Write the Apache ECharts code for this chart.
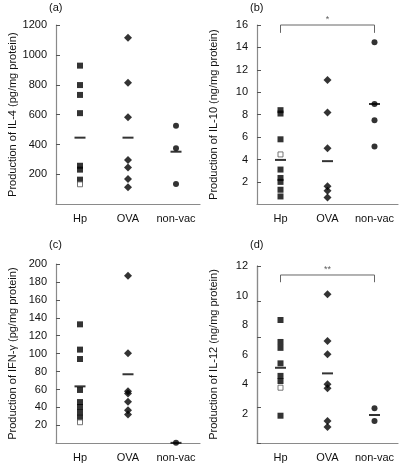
<!DOCTYPE html>
<html>
<head>
<meta charset="utf-8">
<script src="https://cdn.jsdelivr.net/npm/echarts@6/dist/echarts.min.js"></script>
<style>
html,body{margin:0;padding:0;background:#fff;}
#chart{width:400px;height:464px;}
</style>
</head>
<body>
<div id="chart"></div>
<script>
// ---- data ----
const categories = ['Hp', 'OVA', 'non-vac'];

// (a) IL-4 (pg/mg protein)
const il4Hp = [928, 798, 732, 610, 258, 232, 165];
const il4HpOpen = [134];
const il4Ova = [1115, 814, 582, 296, 247, 169, 114];
const il4NonVac = [526, 375, 136];
const il4Means = [446, 446, 352];

// (b) IL-10 (ng/mg protein)
const il10Hp = [8.4, 8.1, 5.8, 3.1, 2.35, 2.0, 1.3, 0.7];
const il10HpOpen = [4.45];
const il10Ova = [11.1, 8.2, 5.0, 1.6, 1.2, 0.6];
const il10NonVac = [14.45, 8.95, 7.5, 5.15];
const il10Means = [3.96, 3.85, 8.95];

// (c) IFN-gamma (pg/mg protein)
const ifnHp = [132.7, 104.5, 94, 59.5, 46, 40.5, 34.5, 28.5];
const ifnHpOpen = [23.5];
const ifnOva = [187, 100.4, 58, 55.5, 46.4, 37, 32];
const ifnNonVac = [0.5];
const ifnMeans = [63.5, 77, 0.5];

// (d) IL-12 (ng/mg protein)
const il12Hp = [8.34, 6.85, 6.45, 5.4, 4.55, 4.2, 1.85];
const il12HpOpen = [3.75];
const il12Ova = [10.08, 6.92, 6.01, 3.98, 3.71, 1.5, 1.08];
const il12NonVac = [2.35, 1.49];
const il12Means = [5.1, 4.72, 1.9];

// significance brackets [low, high] and marks
const bracketB = [15.3, 16];
const bracketD = [10.9, 11.39];
const sigB = '*';
const sigD = '**';

// axis settings
const yTitles = [
  'Production of IL-4 (pg/mg protein)',
  'Production of IL-10 (ng/mg protein)',
  'Production of IFN-\u03b3 (pg/mg protein)',
  'Production of IL-12 (ng/mg protein)'
];
const yMax = [1200, 16, 200, 12];
const yStep = [200, 2, 20, 2];
const panelTags = ['(a)', '(b)', '(c)', '(d)'];

// ---- chart ----
const FONT = 'Liberation Sans, Arial, Helvetica, sans-serif';
const grids = [
  {left: 56, top: 25, width: 144, height: 179.3},
  {left: 257, top: 25, width: 141, height: 179.3},
  {left: 56, top: 264, width: 144, height: 179.3},
  {left: 257, top: 266, width: 141, height: 177}
];
const panels = [
  {hp: il4Hp, open: il4HpOpen, ova: il4Ova, nv: il4NonVac, means: il4Means},
  {hp: il10Hp, open: il10HpOpen, ova: il10Ova, nv: il10NonVac, means: il10Means},
  {hp: ifnHp, open: ifnHpOpen, ova: ifnOva, nv: ifnNonVac, means: ifnMeans},
  {hp: il12Hp, open: il12HpOpen, ova: il12Ova, nv: il12NonVac, means: il12Means}
];

const axisLineStyle = {color: '#8a8a8a', width: 1.2};
const xAxes = [], yAxes = [], series = [];

grids.forEach((g, i) => {
  xAxes.push({
    type: 'category', gridIndex: i, data: categories, boundaryGap: true,
    axisLine: {lineStyle: axisLineStyle},
    axisTick: {show: false},
    axisLabel: {color: '#111', fontFamily: FONT, fontSize: 11, margin: 9, interval: 0}
  });
  yAxes.push({
    type: 'value', gridIndex: i, min: 0, max: yMax[i], interval: yStep[i],
    position: 'left',
    name: yTitles[i], nameLocation: 'middle', nameGap: 38,
    nameTextStyle: {color: '#111', fontFamily: FONT, fontSize: 11},
    axisLine: {show: true, lineStyle: axisLineStyle},
    axisTick: {show: i !== 3, inside: true, length: 4, lineStyle: {color: '#555'}},
    splitLine: {show: false},
    axisLabel: {color: '#111', fontFamily: FONT, fontSize: 11, margin: 9,
      showMinLabel: false, formatter: v => String(v)}
  });
});
// panel (d): tick marks at a different spacing than the labels
yAxes.push({
  type: 'value', gridIndex: 3, min: 0, max: 12, interval: 2.4,
  position: 'right', offset: -141,
  axisLine: {show: true, lineStyle: axisLineStyle},
  axisTick: {show: true, inside: false, length: 4, lineStyle: {color: '#555'}},
  axisLabel: {show: false}, splitLine: {show: false}
});

panels.forEach((p, i) => {
  const base = {type: 'scatter', xAxisIndex: i, yAxisIndex: i, clip: false, silent: true};
  series.push(Object.assign({}, base, {
    symbol: 'rect', symbolSize: 6, itemStyle: {color: '#000'},
    data: p.hp.map(v => ['Hp', v])
  }));
  series.push(Object.assign({}, base, {
    symbol: 'rect', symbolSize: 5,
    itemStyle: {color: '#fff', borderColor: '#555', borderWidth: 1},
    data: p.open.map(v => ['Hp', v])
  }));
  series.push(Object.assign({}, base, {
    symbol: 'diamond', symbolSize: 8, itemStyle: {color: '#000'},
    data: p.ova.map(v => ['OVA', v])
  }));
  series.push(Object.assign({}, base, {
    symbol: 'circle', symbolSize: 6, itemStyle: {color: '#000'},
    data: p.nv.map(v => ['non-vac', v])
  }));
  series.push(Object.assign({}, base, {
    symbol: 'rect', symbolSize: [11, 2], itemStyle: {color: '#000'},
    data: p.means.map((v, k) => [categories[k], v])
  }));
});

function bracket(idx, lh, mark) {
  series.push({
    type: 'line', xAxisIndex: idx, yAxisIndex: idx, clip: false, silent: true,
    symbol: 'none', lineStyle: {color: '#666', width: 1},
    data: [['Hp', lh[0]], ['Hp', lh[1]], ['non-vac', lh[1]], ['non-vac', lh[0]]]
  });
  series.push({
    type: 'scatter', xAxisIndex: idx, yAxisIndex: idx, clip: false, silent: true,
    symbolSize: 0,
    label: {show: true, position: 'top', distance: 1, formatter: mark,
      color: '#333', fontFamily: FONT, fontSize: 9},
    data: [['OVA', lh[1]]]
  });
}
bracket(1, bracketB, sigB);
bracket(3, bracketD, sigD);

const tagPos = [[49, 2], [250, 2], [49, 239], [250, 239]];
const graphic = panelTags.map((t, i) => ({
  type: 'text', left: tagPos[i][0], top: tagPos[i][1],
  style: {text: t, fill: '#111', font: '11px ' + FONT}
}));

const chart = echarts.init(document.getElementById('chart'), null, {renderer: 'canvas'});
chart.setOption({
  animation: false,
  backgroundColor: '#fff',
  grid: grids,
  xAxis: xAxes,
  yAxis: yAxes,
  series: series,
  graphic: graphic
});
</script>
</body>
</html>
